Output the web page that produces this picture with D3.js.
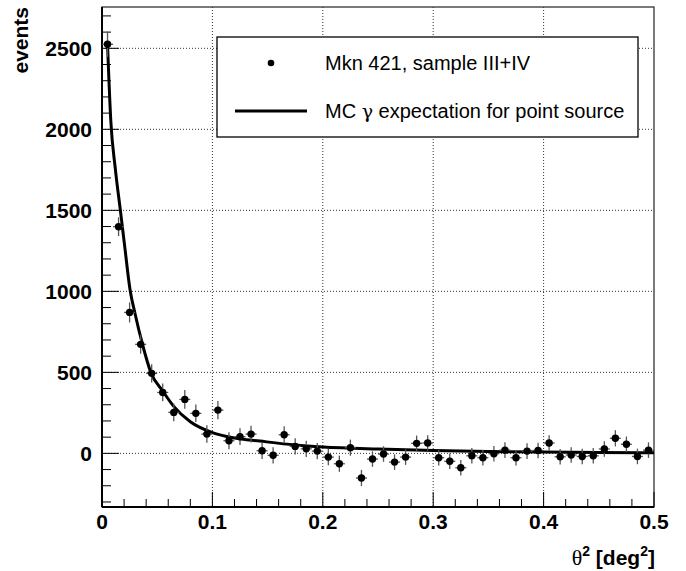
<!DOCTYPE html>
<html>
<meta charset="utf-8">
<script src="https://d3js.org/d3.v7.min.js"></script>
<head>
<style>
body { margin: 0; background: #fff; }
svg { display: block; font-family: "Liberation Sans", Arial, Helvetica, sans-serif; }
</style>
</head>
<body>
<div id="theta_plot"></div>
<script>

// theta^2 bin centres (bin width 0.01) and excess events per bin
var thetaSq = [0.005, 0.015, 0.025, 0.035, 0.045, 0.055, 0.065, 0.075, 0.085, 0.095,
               0.105, 0.115, 0.125, 0.135, 0.145, 0.155, 0.165, 0.175, 0.185, 0.195,
               0.205, 0.215, 0.225, 0.235, 0.245, 0.255, 0.265, 0.275, 0.285, 0.295,
               0.305, 0.315, 0.325, 0.335, 0.345, 0.355, 0.365, 0.375, 0.385, 0.395,
               0.405, 0.415, 0.425, 0.435, 0.445, 0.455, 0.465, 0.475, 0.485, 0.495];
var events = [2525, 1399, 870, 673, 494, 376, 253, 333, 247, 119,
              267, 78, 103, 119, 16, -12, 115, 43, 28, 14,
              -23, -64, 35, -152, -35, -4, -54, -23, 62, 64,
              -27, -49, -89, -15, -27, -2, 20, -27, 14, 18,
              64, -21, -10, -19, -15, 27, 93, 56, -19, 20];
var eventErr = [78, 58, 62, 58, 56, 55, 55, 58, 54, 54,
                56, 52, 52, 52, 50, 50, 52, 50, 50, 50,
                50, 50, 50, 50, 48, 48, 48, 48, 48, 48,
                48, 48, 48, 48, 48, 48, 48, 48, 48, 48,
                48, 48, 48, 48, 48, 48, 50, 48, 48, 48];
var binHalfWidth = 0.005;

// MC gamma expectation for a point source
var mcTheta = [0.005, 0.008, 0.012, 0.017, 0.0207, 0.0254, 0.03, 0.0366, 0.0442, 0.055,
               0.065, 0.08, 0.1, 0.12, 0.143, 0.175, 0.2, 0.25, 0.3, 0.35,
               0.4, 0.45, 0.5];
var mcValue = [2525, 2050, 1760, 1480, 1270, 1010, 860, 675, 500, 385,
               290, 195, 128, 95, 76, 52, 40, 27, 18, 12,
               8, 5, 4];

var xTicks = [0, 0.1, 0.2, 0.3, 0.4, 0.5];
var yTicks = [0, 500, 1000, 1500, 2000, 2500];
var legendLabels = ["Mkn 421, sample III+IV", "MC \u03b3 expectation for point source"];

var width = 686, height = 571;
var frameL = 102, frameR = 654, frameT = 7, frameB = 507;

var svg = d3.select("#theta_plot")
  .append("svg")
    .attr("width", width)
    .attr("height", height);

var x = d3.scaleLinear().domain([0, 0.5]).range([frameL, frameR]);
var y = d3.scaleLinear().domain([-331, 2755]).range([frameB, frameT]);

// frame
svg.append("rect")
  .attr("x", frameL).attr("y", frameT)
  .attr("width", frameR - frameL).attr("height", frameB - frameT)
  .attr("fill", "white")
  .attr("stroke", "#222").attr("stroke-width", 1.2);

// grid
svg.selectAll("vgrid")
  .data(xTicks.slice(1, -1))
  .enter()
  .append("line")
    .attr("x1", function(d) { return x(d); })
    .attr("x2", function(d) { return x(d); })
    .attr("y1", frameT).attr("y2", frameB)
    .attr("stroke", "#333").attr("stroke-width", 1)
    .attr("stroke-dasharray", "1,2");

svg.selectAll("hgrid")
  .data(yTicks)
  .enter()
  .append("line")
    .attr("y1", function(d) { return y(d); })
    .attr("y2", function(d) { return y(d); })
    .attr("x1", frameL).attr("x2", frameR)
    .attr("stroke", "#333").attr("stroke-width", 1)
    .attr("stroke-dasharray", "1,2");

// y axis ticks (pointing inward)
var yMinor = d3.range(-300, 2701, 100).filter(function(d) { return d % 500 != 0; });
svg.selectAll("yminor")
  .data(yMinor)
  .enter()
  .append("line")
    .attr("x1", frameL).attr("x2", frameL + 9)
    .attr("y1", function(d) { return y(d); })
    .attr("y2", function(d) { return y(d); })
    .attr("stroke", "black").attr("stroke-width", 1);

svg.selectAll("ymajor")
  .data(yTicks)
  .enter()
  .append("line")
    .attr("x1", frameL).attr("x2", frameL + 17)
    .attr("y1", function(d) { return y(d); })
    .attr("y2", function(d) { return y(d); })
    .attr("stroke", "black").attr("stroke-width", 1);

svg.selectAll("ylabels")
  .data(yTicks)
  .enter()
  .append("text")
    .attr("x", frameL - 10)
    .attr("y", function(d) { return y(d); })
    .attr("dy", "0.36em")
    .attr("text-anchor", "end")
    .attr("font-weight", "bold")
    .attr("font-size", "21px")
    .text(function(d) { return d; });

// x axis ticks
var xMinor = d3.range(0.02, 0.5, 0.02).filter(function(d) { return Math.abs(d * 10 - Math.round(d * 10)) > 1e-6; });
svg.selectAll("xminor")
  .data(xMinor)
  .enter()
  .append("line")
    .attr("x1", function(d) { return x(d); })
    .attr("x2", function(d) { return x(d); })
    .attr("y1", frameB).attr("y2", frameB - 8)
    .attr("stroke", "black").attr("stroke-width", 1);

svg.selectAll("xmajor")
  .data(xTicks)
  .enter()
  .append("line")
    .attr("x1", function(d) { return x(d); })
    .attr("x2", function(d) { return x(d); })
    .attr("y1", frameB).attr("y2", frameB - 15)
    .attr("stroke", "black").attr("stroke-width", 1);

svg.selectAll("xlabels")
  .data(xTicks)
  .enter()
  .append("text")
    .attr("x", function(d) { return x(d); })
    .attr("y", 529)
    .attr("text-anchor", "middle")
    .attr("font-weight", "bold")
    .attr("font-size", "21px")
    .text(function(d) { return d; });

// axis lines
svg.append("line")
  .attr("x1", frameL).attr("x2", frameL).attr("y1", frameT).attr("y2", frameB)
  .attr("stroke", "black").attr("stroke-width", 2);
svg.append("line")
  .attr("x1", frameL).attr("x2", frameR).attr("y1", frameB).attr("y2", frameB)
  .attr("stroke", "black").attr("stroke-width", 2);

// axis titles
svg.append("text")
  .attr("transform", "translate(28," + frameT + ") rotate(-90)")
  .attr("text-anchor", "end")
  .attr("font-weight", "bold")
  .attr("font-size", "21px")
  .text("events");

var xt = svg.append("text")
  .attr("x", 655)
  .attr("y", 565)
  .attr("text-anchor", "end")
  .attr("font-weight", "bold")
  .attr("font-size", "21px");
xt.append("tspan").attr("font-family", "'Liberation Serif', serif").attr("font-weight", "normal").attr("font-size", "22px").text("\u03b8");
xt.append("tspan").attr("dy", -9).attr("font-size", "14px").text("2");
xt.append("tspan").attr("dy", 9).text(" [deg");
xt.append("tspan").attr("dy", -9).attr("font-size", "14px").text("2");
xt.append("tspan").attr("dy", 9).text("]");

// MC curve
var line = d3.line()
  .x(function(d) { return x(d[0]); })
  .y(function(d) { return y(d[1]); })
  .curve(d3.curveMonotoneX);

svg.append("path")
  .datum(d3.zip(mcTheta, mcValue))
  .attr("d", line)
  .attr("fill", "none")
  .attr("stroke", "black")
  .attr("stroke-width", 3);

// data points with error bars
var pts = d3.zip(thetaSq, events, eventErr);

svg.selectAll("verr")
  .data(pts)
  .enter()
  .append("line")
    .attr("x1", function(d) { return x(d[0]); })
    .attr("x2", function(d) { return x(d[0]); })
    .attr("y1", function(d) { return y(d[1] - d[2]); })
    .attr("y2", function(d) { return y(d[1] + d[2]); })
    .attr("stroke", "#555").attr("stroke-width", 1.3);

svg.selectAll("herr")
  .data(pts)
  .enter()
  .append("line")
    .attr("x1", function(d) { return x(d[0] - binHalfWidth); })
    .attr("x2", function(d) { return x(d[0] + binHalfWidth); })
    .attr("y1", function(d) { return y(d[1]); })
    .attr("y2", function(d) { return y(d[1]); })
    .attr("stroke", "#555").attr("stroke-width", 1.3);

svg.selectAll("dots")
  .data(pts)
  .enter()
  .append("circle")
    .attr("cx", function(d) { return x(d[0]); })
    .attr("cy", function(d) { return y(d[1]); })
    .attr("r", 3.7)
    .attr("fill", "black");

// legend
var lg = svg.append("g");
lg.append("rect")
  .attr("x", 217).attr("y", 37)
  .attr("width", 421).attr("height", 100)
  .attr("fill", "white")
  .attr("stroke", "black").attr("stroke-width", 1.3);

lg.append("circle")
  .attr("cx", 271).attr("cy", 63).attr("r", 3.3)
  .attr("fill", "black");

lg.append("line")
  .attr("x1", 235).attr("x2", 307).attr("y1", 111).attr("y2", 111)
  .attr("stroke", "black").attr("stroke-width", 3);

// the gamma is set in a serif face, like the symbol font of the original
lg.selectAll("legtext")
  .data(legendLabels)
  .enter()
  .append("text")
    .attr("x", 325)
    .attr("y", function(d, i) { return i == 0 ? 63 : 111; })
    .attr("dy", "0.36em")
    .attr("font-size", "20px")
    .each(function(d) {
      var parts = d.split("\u03b3");
      var t = d3.select(this);
      t.append("tspan").text(parts[0]);
      if (parts.length > 1) {
        t.append("tspan").attr("font-family", "'DejaVu Serif', serif").attr("font-size", "19px").text("\u03b3");
        t.append("tspan").text(parts[1]);
      }
    });

</script>
</body>
</html>
